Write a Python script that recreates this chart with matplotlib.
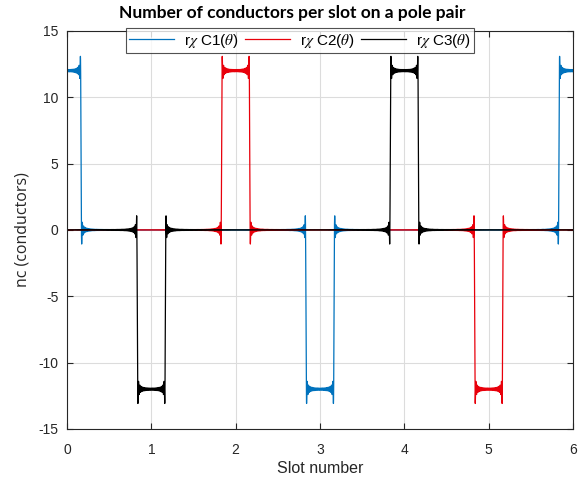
import matplotlib
matplotlib.use("Agg")
import matplotlib.pyplot as plt
import numpy as np

plt.rcParams["font.family"] = ["Liberation Sans", "DejaVu Sans"]
plt.rcParams["axes.unicode_minus"] = False
plt.rcParams["mathtext.fontset"] = "stix"

# conductors per slot for each phase over one pole pair (slots 0..5, periodic)
slots = [0, 1, 2, 3, 4, 5]
nc_c1 = [12, 0, 0, -12, 0, 0]
nc_c2 = [0, 0, 12, 0, 0, -12]
nc_c3 = [0, -12, 0, 0, 12, 0]
slot_width = 1 / 3          # opening of one slot, in slot pitches
n_harm = 400                # harmonics kept in the series
period = 6.0

labels = [r"r$\chi$ C1($\theta$)", r"r$\chi$ C2($\theta$)", r"r$\chi$ C3($\theta$)"]
colors = ["#0072BD", "#E8000B", "#000000"]


def series(x, counts):
    # truncated Fourier series of the rectangular slot distribution
    y = np.zeros_like(x)
    n = np.arange(1, n_harm + 1)[:, None]
    for s, a in zip(slots, counts):
        if a == 0:
            continue
        y += a * slot_width / period
        coef = 2 / (n * np.pi) * np.sin(n * np.pi * slot_width / period)
        y += a * np.sum(coef * np.cos(2 * np.pi * n * (x - s) / period), axis=0)
    return y


theta = np.linspace(0, 6, 12001)

fig = plt.figure(figsize=(5.85, 4.82), dpi=100)
ax = fig.add_axes([0.1145, 0.11, 0.865, 0.826])

for counts, lab, c in zip([nc_c1, nc_c2, nc_c3], labels, colors):
    ax.plot(theta, series(theta, counts), color=c, lw=0.9, label=lab)

ax.set_xlim(0, 6)
ax.set_ylim(-15, 15)
ax.set_xticks(range(0, 7))
ax.set_yticks(range(-15, 16, 5))
ax.grid(True, color="#dcdcdc", lw=0.8)
ax.set_axisbelow(True)
ax.tick_params(direction="in", top=True, right=True, labelsize=10,
               colors="#262626", length=4)
ax.tick_params(axis="x", pad=10)
ax.tick_params(axis="y", pad=6)
for sp in ax.spines.values():
    sp.set_color("#262626")
    sp.set_linewidth(0.8)

ax.set_xlabel("Slot number", fontsize=11.5, color="#262626", labelpad=3)
ax.set_ylabel("nc (conductors)", fontsize=11.5, color="#262626", labelpad=6,
              family="Open Sans")
fig.text(0.5, 0.972, "Number of conductors per slot on a pole pair",
         ha="center", va="center", fontsize=12.5, fontweight="bold",
         family="Lato")

leg = ax.legend(loc="upper center", ncol=3, bbox_to_anchor=(0.46, 1.006),
                fontsize=11, frameon=True, fancybox=False, borderpad=0.2,
                handlelength=2.95, columnspacing=0.45, handletextpad=0.65,
                borderaxespad=0)
leg.get_frame().set_edgecolor("#262626")
leg.get_frame().set_linewidth(0.8)

fig.savefig("out.png", dpi=100)
